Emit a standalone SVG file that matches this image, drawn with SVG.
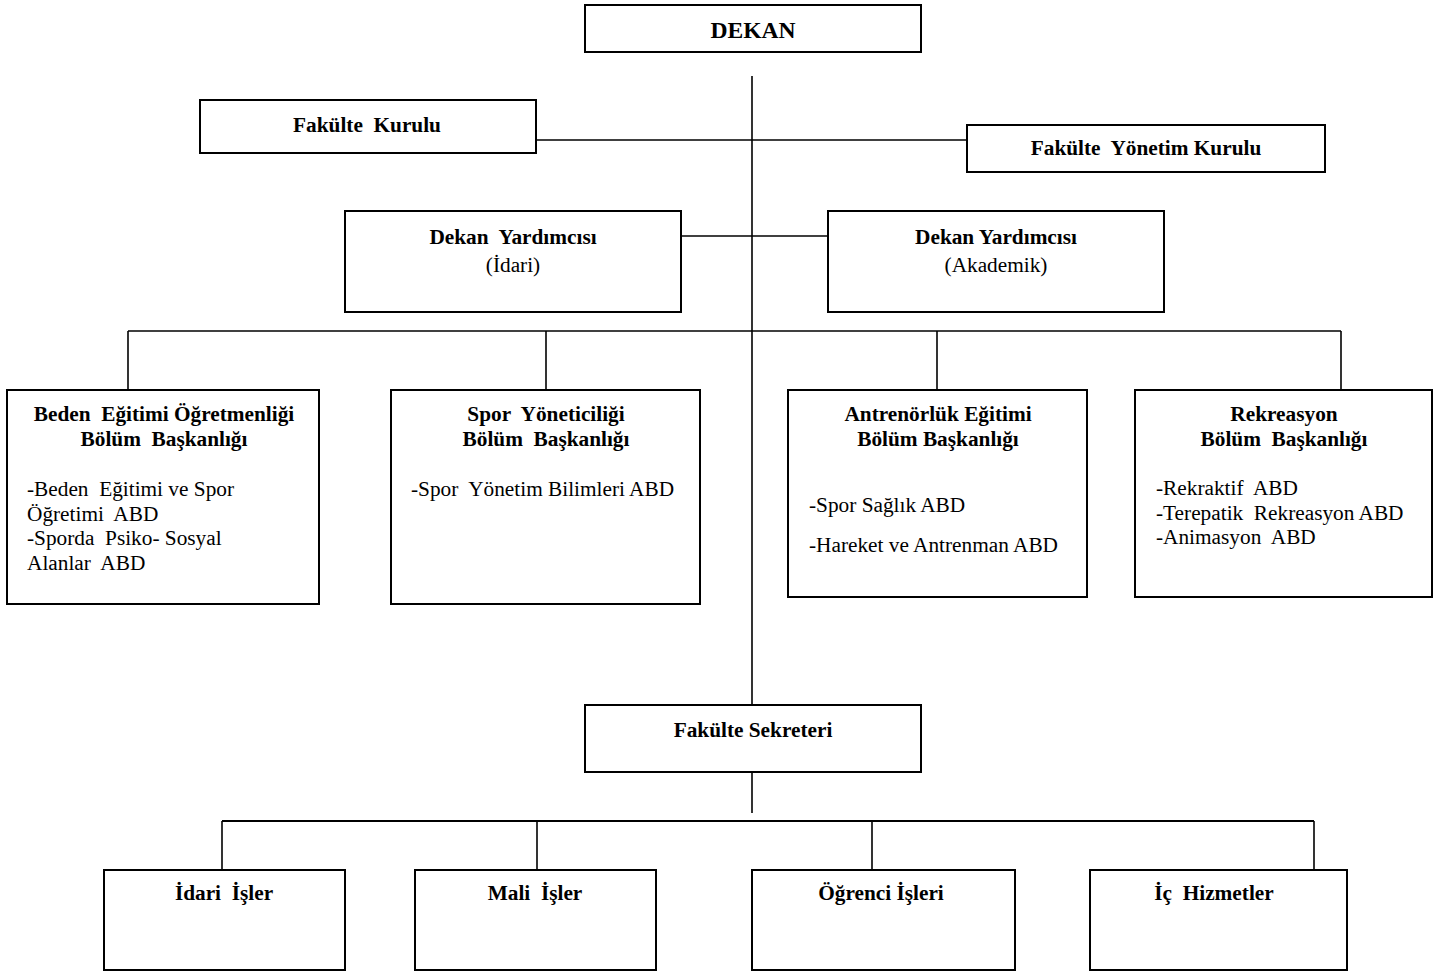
<svg xmlns="http://www.w3.org/2000/svg" width="1450" height="974" viewBox="0 0 1450 974">
<style>
.box{fill:#fff;stroke:#000;stroke-width:2}
.ln{stroke:#000;stroke-width:1.6;fill:none}
text{font-family:"Liberation Serif","Times New Roman",serif;font-size:21.3px;fill:#000;white-space:pre}
.b{font-weight:bold}
.c{text-anchor:middle}
</style>
<rect width="1450" height="974" fill="#fff"/>
<g id="connectors">
<line class="ln" x1="752" y1="76" x2="752" y2="705"/>
<line class="ln" x1="536" y1="140" x2="967" y2="140"/>
<line class="ln" x1="681" y1="236" x2="828" y2="236"/>
<line class="ln" x1="128" y1="331" x2="1341" y2="331"/>
<line class="ln" x1="128" y1="331" x2="128" y2="390"/>
<line class="ln" x1="546" y1="331" x2="546" y2="390"/>
<line class="ln" x1="937" y1="331" x2="937" y2="390"/>
<line class="ln" x1="1341" y1="331" x2="1341" y2="390"/>
<line class="ln" x1="752" y1="772" x2="752" y2="813"/>
<line class="ln" x1="222" y1="821" x2="1314" y2="821" style="stroke-width:2"/>
<line class="ln" x1="222" y1="821" x2="222" y2="870"/>
<line class="ln" x1="537" y1="821" x2="537" y2="870"/>
<line class="ln" x1="872" y1="821" x2="872" y2="880"/>
<line class="ln" x1="1314" y1="821" x2="1314" y2="870"/>
</g>
<g id="dekan">
<rect class="box" x="585" y="5" width="336" height="47"/>
<text class="b c" x="753" y="38" style="font-size:23.6px">DEKAN</text>
</g>
<g id="fakulte-kurulu">
<rect class="box" x="200" y="100" width="336" height="53"/>
<text class="b c" x="367" y="132">Fakülte  Kurulu</text>
</g>
<g id="fakulte-yonetim-kurulu">
<rect class="box" x="967" y="125" width="358" height="47"/>
<text class="b c" x="1146" y="155">Fakülte  Yönetim Kurulu</text>
</g>
<g id="dekan-yrd-idari">
<rect class="box" x="345" y="211" width="336" height="101"/>
<text class="b c" x="513" y="244">Dekan  Yardımcısı</text>
<text class="c" x="513" y="272">(İdari)</text>
</g>
<g id="dekan-yrd-akademik">
<rect class="box" x="828" y="211" width="336" height="101"/>
<text class="b c" x="996" y="244">Dekan Yardımcısı</text>
<text class="c" x="996" y="272">(Akademik)</text>
</g>
<g id="beden-egitimi">
<rect class="box" x="7" y="390" width="312" height="214"/>
<text class="b c" x="164" y="421">Beden  Eğitimi Öğretmenliği</text>
<text class="b c" x="164" y="446">Bölüm  Başkanlığı</text>
<text x="27" y="496">-Beden  Eğitimi ve Spor</text>
<text x="27" y="521">Öğretimi  ABD</text>
<text x="27" y="545">-Sporda  Psiko- Sosyal</text>
<text x="27" y="570">Alanlar  ABD</text>
</g>
<g id="spor-yoneticiligi">
<rect class="box" x="391" y="390" width="309" height="214"/>
<text class="b c" x="546" y="421">Spor  Yöneticiliği</text>
<text class="b c" x="546" y="446">Bölüm  Başkanlığı</text>
<text x="411" y="496">-Spor  Yönetim Bilimleri ABD</text>
</g>
<g id="antrenorluk">
<rect class="box" x="788" y="390" width="299" height="207"/>
<text class="b c" x="938" y="421">Antrenörlük Eğitimi</text>
<text class="b c" x="938" y="446">Bölüm Başkanlığı</text>
<text x="809" y="512">-Spor Sağlık ABD</text>
<text x="809" y="552">-Hareket ve Antrenman ABD</text>
</g>
<g id="rekreasyon">
<rect class="box" x="1135" y="390" width="297" height="207"/>
<text class="b c" x="1284" y="421">Rekreasyon</text>
<text class="b c" x="1284" y="446">Bölüm  Başkanlığı</text>
<text x="1156" y="495">-Rekraktif  ABD</text>
<text x="1156" y="520">-Terepatik  Rekreasyon ABD</text>
<text x="1156" y="544">-Animasyon  ABD</text>
</g>
<g id="fakulte-sekreteri">
<rect class="box" x="585" y="705" width="336" height="67"/>
<text class="b c" x="753" y="737">Fakülte Sekreteri</text>
</g>
<g id="idari-isler">
<rect class="box" x="104" y="870" width="241" height="100"/>
<text class="b c" x="224" y="900">İdari  İşler</text>
</g>
<g id="mali-isler">
<rect class="box" x="415" y="870" width="241" height="100"/>
<text class="b c" x="535" y="900">Mali  İşler</text>
</g>
<g id="ogrenci-isleri">
<rect class="box" x="752" y="870" width="263" height="100"/>
<text class="b c" x="881" y="900">Öğrenci İşleri</text>
</g>
<g id="ic-hizmetler">
<rect class="box" x="1090" y="870" width="257" height="100"/>
<text class="b c" x="1214" y="900">İç  Hizmetler</text>
</g>
</svg>
